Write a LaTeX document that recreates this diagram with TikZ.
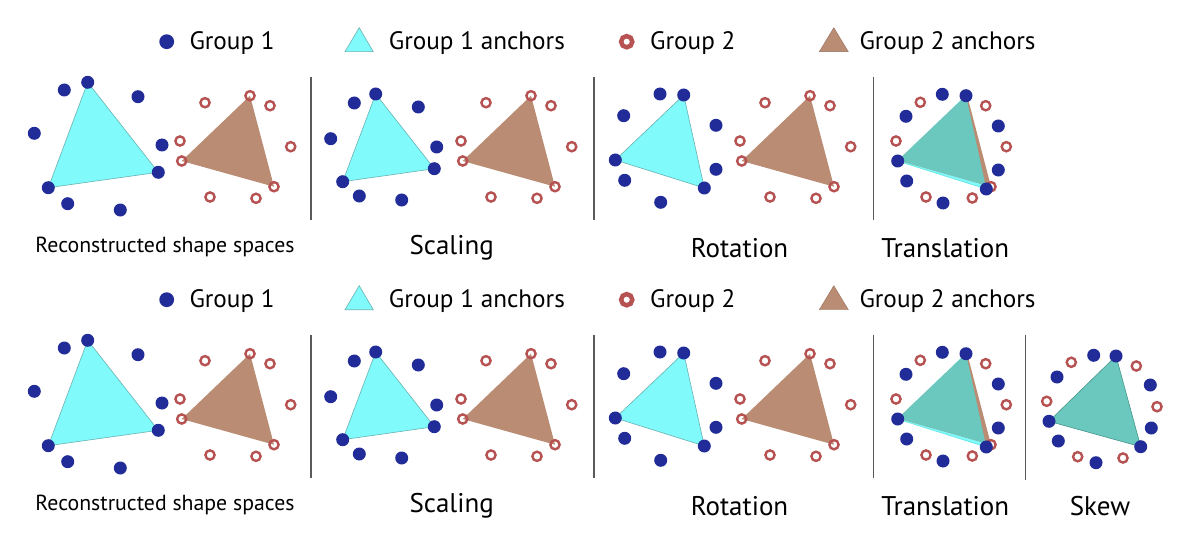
\documentclass[tikz,border=0pt]{standalone}
\usepackage{fontspec}
\setmainfont{PT Sans}
\definecolor{gblue}{RGB}{33,44,152}
\definecolor{gred}{RGB}{183,82,82}
\definecolor{cyanfill}{RGB}{128,250,250}
\definecolor{cyanline}{RGB}{105,178,178}
\definecolor{brownfill}{RGB}{186,140,115}
\definecolor{tealfill}{RGB}{106,200,190}
\definecolor{tealline}{RGB}{70,150,140}
\definecolor{sepgray}{RGB}{90,90,90}
\begin{document}
\begin{tikzpicture}[x=1pt,y=-1pt,
  bdot/.style={fill=gblue},
  rring/.style={draw=gred,line width=2.4pt},
  ctri/.style={fill=cyanfill,draw=cyanline,line width=0.6pt},
  btri/.style={fill=brownfill},
  sep/.style={draw=sepgray,line width=1.3pt},
  legtext/.style={anchor=base west,inner sep=0pt,font=\fontsize{25.2}{30}\selectfont},
  lab/.style={anchor=base,inner sep=0pt,font=\fontsize{27}{32}\selectfont},
  labsmall/.style={anchor=base,inner sep=0pt,font=\fontsize{21.8}{26}\selectfont}]
\useasboundingbox (0,0) rectangle (1200,559);
\fill[white] (0,0) rectangle (1200,559);

\foreach \dy/\sfx in {0/a,258/b}{
\begin{scope}[shift={(0,\dy)}]
% legend
\fill[bdot] (166.7,41.7) circle (7.4);
\node[legtext] (g1\sfx) at (189.3,49.3) {Group 1};
\fill[ctri] (345,51.7) -- (373.3,51.7) -- (359.2,27.7) -- cycle;
\node[legtext] (g1a\sfx) at (388.7,49.3) {Group 1 anchors};
\draw[draw=gred,line width=4.5pt] (626.7,41.7) circle (5.6);
\node[legtext] (g2\sfx) at (650,49.3) {Group 2};
\fill[btri,draw=brownfill!80!black,line width=0.4pt] (819.3,51.7) -- (848.3,51.7) -- (833.8,27.7) -- cycle;
\node[legtext] (g2a\sfx) at (859.3,49.3) {Group 2 anchors};

% separators
\draw[sep] (311,77) -- (311,220);
\draw[sep] (594,77) -- (594,220);
\draw[sep] (873.3,77) -- (873.3,220);

% panel 1
\filldraw[ctri] (87.7,82.3) -- (158.3,172.3) -- (48.3,187.7) -- cycle;
\fill[btri] (250,95.7) -- (274,186.7) -- (181.7,161) -- cycle;
\foreach \p in {(87.7,82.3),(64.3,90),(138,96.7),(34.3,133.3),(162,145),(158.3,172.3),(48.3,187.7),(67.7,203.7),(120.3,210)}
  \fill[bdot] \p circle (6.5);
\foreach \p in {(250,95.7),(205,102.7),(270,105.7),(180,141),(290.7,146.7),(181.7,161),(274,186.7),(210,197),(256,198.3)}
  \draw[rring] \p circle (4.6);
\node[labsmall] (rec\sfx) at (165,252.7) {Reconstructed shape spaces};

% panel 2
\filldraw[ctri] (375.7,94) -- (434.3,168.7) -- (342.7,181.7) -- cycle;
\fill[btri] (531,95.7) -- (555,186.7) -- (462.7,161) -- cycle;
\foreach \p in {(375.7,94),(354.3,103),(418.3,107),(330.7,138.7),(436.7,147),(434.3,168.7),(342.7,181.7),(359.3,196),(401.7,200)}
  \fill[bdot] \p circle (6.5);
\foreach \p in {(531,95.7),(486,102.7),(551,105.7),(461,141),(571.7,146.7),(462.7,161),(555,186.7),(491,197),(537,198.3)}
  \draw[rring] \p circle (4.6);
\node[lab] (sca\sfx) at (451.7,254.3) {Scaling};

% panel 3
\filldraw[ctri] (683.7,95) -- (704.3,188) -- (615.3,160) -- cycle;
\fill[btri] (810,95.7) -- (834,186.7) -- (741.7,161) -- cycle;
\foreach \p in {(660,94),(683.7,95),(623.7,115.7),(716,125.3),(615.3,160),(716,169.3),(624.7,180.3),(704.3,188),(660.7,202.3)}
  \fill[bdot] \p circle (6.5);
\foreach \p in {(810,95.7),(765,102.7),(830,105.7),(740,141),(850.7,146.7),(741.7,161),(834,186.7),(770,197),(816,198.3)}
  \draw[rring] \p circle (4.6);
\node[lab] (rot\sfx) at (739.5,257.3) {Rotation};

% panel 4
\filldraw[fill=cyanfill,draw=cyanfill!85!teal,line width=0.8pt] (966,95.7) -- (986.3,189) -- (897.7,161) -- cycle;
\fill[btri] (967,95) -- (991,186.7) -- (898.3,160.4) -- cycle;
\begin{scope}
  \clip (966,95.7) -- (986.3,189) -- (897.7,161) -- cycle;
  \fill[tealfill] (967,95) -- (991,186.7) -- (898.3,160.4) -- cycle;
\end{scope}
\foreach \p in {(920.3,102.3),(985.7,105.7),(896,141),(1006.3,146.7),(991,186.7),(926,197),(972.3,198)}
  \draw[rring] \p circle (4.6);
\foreach \p in {(942.3,94.3),(966,95.7),(906,116.3),(998.3,126),(897.7,161),(998.3,170),(906.7,181),(986.3,189),(943,203)}
  \fill[bdot] \p circle (6.5);
\node[lab] (tra\sfx) at (945.3,257.7) {Translation};
\end{scope}
}

% skew panel (bottom row only)
\draw[sep] (1025.7,335) -- (1025.7,480);
\filldraw[fill=tealfill,draw=tealline,line width=0.6pt] (1116,356) -- (1140.7,446.7) -- (1049,421.3) -- cycle;
\foreach \p in {(1071.3,362.3),(1136.3,366),(1046.7,401.3),(1157,406.7),(1077.7,456.7),(1123,458)}
  \draw[rring] \p circle (4.6);
\foreach \p in {(1093.7,355.3),(1116,356),(1057,377),(1150.3,385),(1049,421.3),(1151.3,428),(1058.3,441),(1140.7,446.7),(1096,462.7)}
  \fill[bdot] \p circle (6.5);
\node[lab] (skew) at (1100,515) {Skew};
\end{tikzpicture}
\end{document}
